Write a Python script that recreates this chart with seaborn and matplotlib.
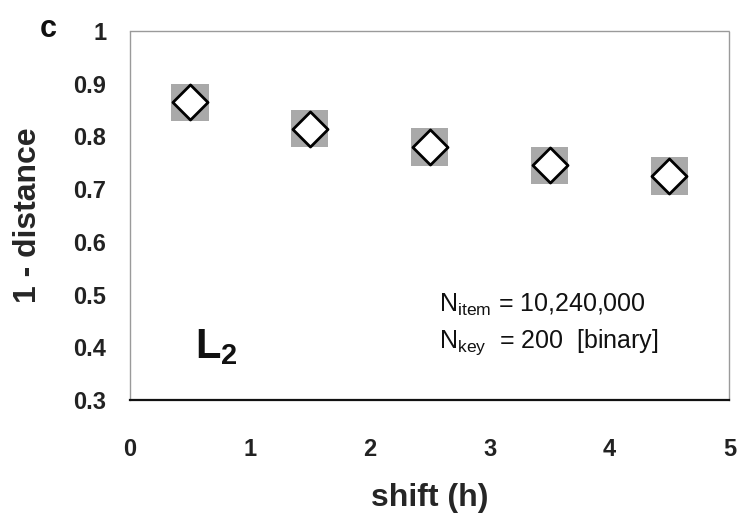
import matplotlib
matplotlib.use("Agg")
import matplotlib.pyplot as plt
import seaborn as sns
import pandas as pd
from matplotlib.ticker import MultipleLocator

shift_h = [0.5, 1.5, 2.5, 3.5, 4.5]
similarity = [0.865, 0.815, 0.78, 0.745, 0.725]
x_ticks = [0, 1, 2, 3, 4, 5]
y_ticks = [0.3, 0.4, 0.5, 0.6, 0.7, 0.8, 0.9, 1]
y_tick_labels = ["0.3", "0.4", "0.5", "0.6", "0.7", "0.8", "0.9", "1"]

df = pd.DataFrame({"shift": shift_h, "sim": similarity})

sns.set_style("white")
plt.rcParams["font.family"] = ["Liberation Sans", "DejaVu Sans"]
plt.rcParams["mathtext.fontset"] = "custom"
plt.rcParams["mathtext.rm"] = "Liberation Sans"
plt.rcParams["mathtext.bf"] = "Liberation Sans:bold"
plt.rcParams["mathtext.it"] = "Liberation Sans:italic"

fig = plt.figure(figsize=(7.39, 5.25), dpi=100)
ax = fig.add_axes([0.176, 0.238, 0.811, 0.703])

# grey backing squares, then open diamonds on top
sns.scatterplot(data=df, x="shift", y="sim", ax=ax, marker="s", s=720,
                color="#a9a9a9", edgecolor="none", linewidth=0, zorder=2,
                legend=False)
sns.scatterplot(data=df, x="shift", y="sim", ax=ax, marker="D", s=320,
                facecolor="white", edgecolor="black", linewidth=2.0, zorder=3,
                legend=False)

ax.set_xlim(0, 5)
ax.set_ylim(0.3, 1)
ax.set_xticks(x_ticks)
ax.set_xticklabels([str(t) for t in x_ticks])
ax.set_yticks(y_ticks)
ax.set_yticklabels(y_tick_labels)
ax.xaxis.set_minor_locator(MultipleLocator(0.5))

ax.tick_params(axis="both", which="major", direction="out", length=3, width=0.8,
               color="#888888", labelsize=17)
ax.tick_params(axis="y", which="major", pad=14)
ax.tick_params(axis="x", which="major", pad=24)
ax.tick_params(axis="x", which="minor", direction="out", length=2, width=0.6,
               color="#888888")
for lab in ax.get_xticklabels() + ax.get_yticklabels():
    lab.set_fontweight("bold")
    lab.set_color("#222222")

for side in ["top", "right", "left"]:
    ax.spines[side].set_color("#9a9a9a")
    ax.spines[side].set_linewidth(1.0)
    ax.spines[side].set_linestyle((0, (1, 1)))
ax.spines["bottom"].set_color("#111111")
ax.spines["bottom"].set_linewidth(1.6)

ax.set_xlabel("shift (h)", fontsize=23, fontweight="bold", labelpad=16)
ax.set_ylabel("1 - distance", fontsize=23, fontweight="bold", labelpad=22)

ax.text(0.54, 0.400, r"$\mathbf{L}_{\mathbf{2}}$", fontsize=30, ha="left",
        va="center", color="#111111")
ax.text(2.58, 0.480, r"N$_{\mathrm{item}}$ = 10,240,000", fontsize=18,
        ha="left", va="center", color="#111111")
ax.text(2.58, 0.410, r"N$_{\mathrm{key}}$  = 200  [binary]", fontsize=18,
        ha="left", va="center", color="#111111")

fig.text(0.065, 0.945, "c", fontsize=22, fontweight="bold", ha="center",
         va="center", color="#111111")

fig.savefig("out.png", dpi=100)
